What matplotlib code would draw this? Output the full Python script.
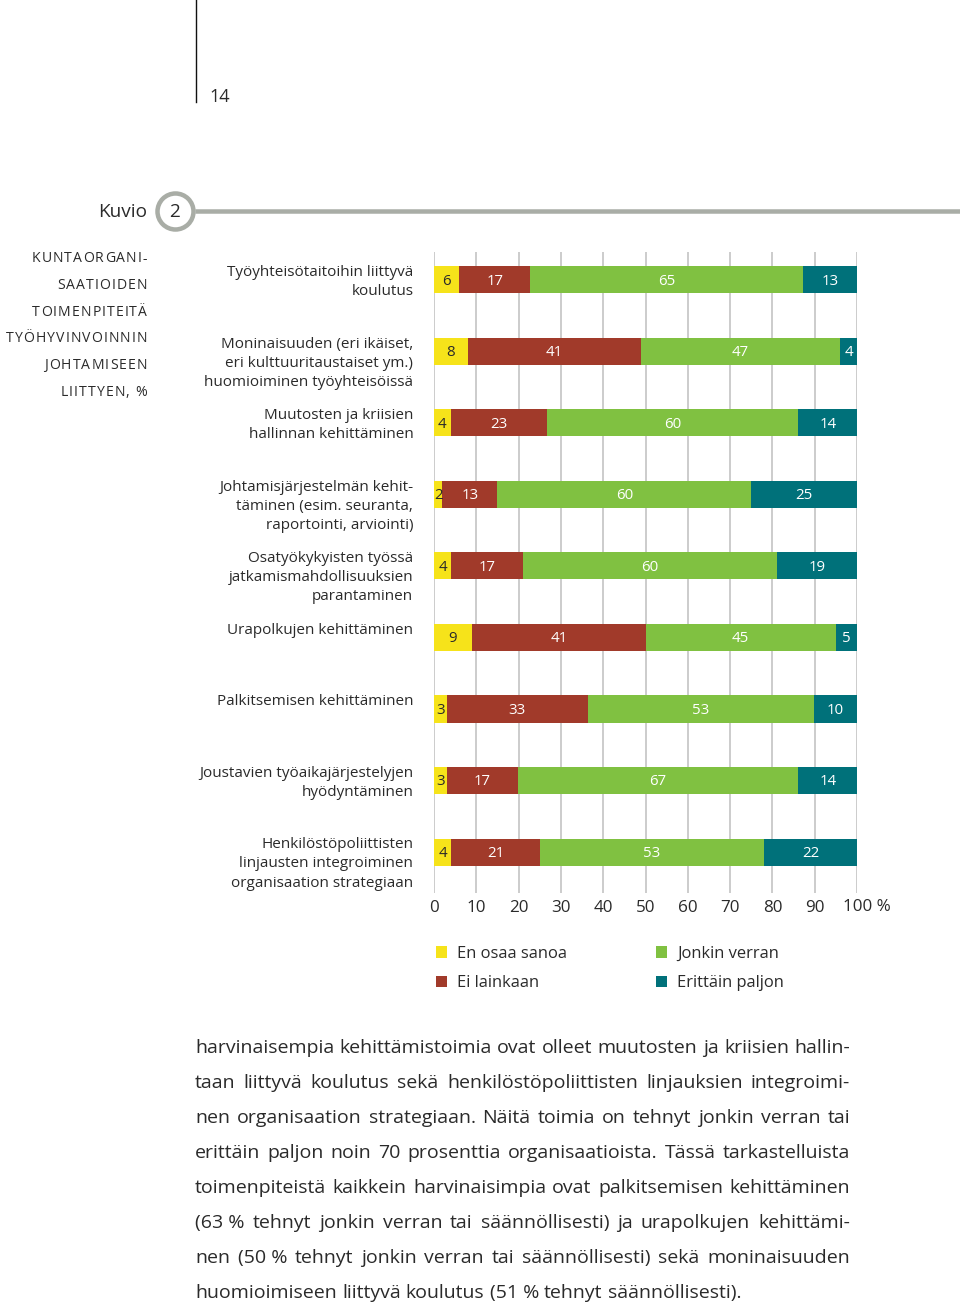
import matplotlib
matplotlib.use("Agg")
import matplotlib.pyplot as plt
import matplotlib.transforms as mtransforms
from matplotlib.lines import Line2D

W, H = 960, 1305
FONT = "Open Sans"
TEXT = "#2a2a2a"

categories = [
    "Työyhteisötaitoihin liittyvä\nkoulutus",
    "Moninaisuuden (eri ikäiset,\neri kulttuuritaustaiset ym.)\nhuomioiminen työyhteisöissä",
    "Muutosten ja kriisien\nhallinnan kehittäminen",
    "Johtamisjärjestelmän kehit-\ntäminen (esim. seuranta,\nraportointi, arviointi)",
    "Osatyökykyisten työssä\njatkamismahdollisuuksien\nparantaminen",
    "Urapolkujen kehittäminen",
    "Palkitsemisen kehittäminen",
    "Joustavien työaikajärjestelyjen\nhyödyntäminen",
    "Henkilöstöpoliittisten\nlinjausten integroiminen\norganisaation strategiaan",
]
en_osaa_sanoa = [6, 8, 4, 2, 4, 9, 3, 3, 4]
ei_lainkaan = [17, 41, 23, 13, 17, 41, 33, 17, 21]
jonkin_verran = [65, 47, 60, 60, 60, 45, 53, 67, 53]
erittain_paljon = [13, 4, 14, 25, 19, 5, 10, 14, 22]

series_names = ["En osaa sanoa", "Ei lainkaan", "Jonkin verran", "Erittäin paljon"]
series_colors = ["#F6E31A", "#A13A2A", "#80C141", "#00717A"]
label_colors = ["#2a2a2a", "white", "white", "white"]
x_ticks = [0, 10, 20, 30, 40, 50, 60, 70, 80, 90, 100]

header_lines = ["KUNTAORGANI-", "SAATIOIDEN", "TOIMENPITEITÄ",
                "TYÖHYVINVOINNIN", "JOHTAMISEEN", "LIITTYEN, %"]

paragraph = [
    "harvinaisempia kehittämistoimia ovat olleet muutosten ja kriisien hallin-",
    "taan liittyvä koulutus sekä henkilöstöpoliittisten linjauksien integroimi-",
    "nen organisaation strategiaan. Näitä toimia on tehnyt jonkin verran tai",
    "erittäin paljon noin 70 prosenttia organisaatioista. Tässä tarkastelluista",
    "toimenpiteistä kaikkein harvinaisimpia ovat palkitsemisen kehittäminen",
    "(63\u00a0% tehnyt jonkin verran tai säännöllisesti) ja urapolkujen kehittämi-",
    "nen (50\u00a0% tehnyt jonkin verran tai säännöllisesti) sekä moninaisuuden",
    "huomioimiseen liittyvä koulutus (51\u00a0% tehnyt säännöllisesti).",
]

plt.rcParams['font.family'] = [FONT, 'DejaVu Sans']


def fx(px):
    return px / W


def fy(py):
    return 1 - py / H


def pt(px):
    return px * 72 / 100


fig = plt.figure(figsize=(W / 100, H / 100), dpi=100)
renderer = fig.canvas.get_renderer()


def text_width(s, size):
    t = fig.text(0, 0, s, fontsize=size)
    w = t.get_window_extent(renderer).width
    t.remove()
    return w


# --- page number and top rule
fig.add_artist(Line2D([fx(196), fx(196)], [1, fy(102)], lw=pt(1.4), color="#111"))
fig.text(fx(209), fy(97), "14", fontsize=pt(18), color=TEXT, va="center")

# --- "Kuvio 2" header
grey = "#A9ADA6"
fig.add_artist(Line2D([fx(195), 1], [fy(211), fy(211)], lw=pt(4.5), color=grey,
                      solid_capstyle="butt"))
fig.add_artist(Line2D([fx(175)], [fy(211)], marker="o", markersize=pt(36),
                      markerfacecolor="white", markeredgecolor=grey,
                      markeredgewidth=pt(4.5)))
fig.text(fx(147), fy(212), "Kuvio", fontsize=pt(19), color=TEXT, ha="right", va="center")
fig.text(fx(175), fy(212), "2", fontsize=pt(19), color=TEXT, ha="center", va="center")

# --- spaced caps title on the left
cap_size = pt(14)
tracking = 1.1
for i, line in enumerate(header_lines):
    y = 259 + i * 26.6
    x = 147
    for ch in reversed(line):
        w = text_width(ch, cap_size) if ch != " " else cap_size * 0.35
        x -= w
        if ch != " ":
            fig.text(fx(x), fy(y), ch, fontsize=cap_size, color=TEXT, va="center")
        x -= tracking

# --- stacked bars
ax = fig.add_axes([fx(434), fy(893), (857 - 434) / W, (893 - 252) / H])
n = len(categories)
ax.set_xlim(0, 100)
ax.set_ylim(n - 1 + 0.573, -0.39)
bar_h = 0.378

data = [en_osaa_sanoa, ei_lainkaan, jonkin_verran, erittain_paljon]
totals = [sum(v) for v in zip(*data)]
lefts = [0.0] * n
for vals, name, col, lcol in zip(data, series_names, series_colors, label_colors):
    widths = [v * 100 / t for v, t in zip(vals, totals)]
    ax.barh(range(n), widths, left=lefts, height=bar_h, color=col, label=name, zorder=2)
    for i, (v, w, l) in enumerate(zip(vals, widths, lefts)):
        ax.text(l + w / 2, i + 0.02, str(v), ha="center", va="center",
                fontsize=pt(15), color=lcol, zorder=3)
    lefts = [l + w for l, w in zip(lefts, widths)]

for i, cat in enumerate(categories):
    ax.text(-4.9, i - 0.205, cat, ha="right", va="top", fontsize=pt(15.2),
            color=TEXT, linespacing=1.37, clip_on=False)

ax.set_xticks(x_ticks)
ax.set_xticklabels([str(t) for t in x_ticks[:-1]] + [""])
ax.tick_params(axis="x", length=0, pad=pt(7), labelsize=pt(17), labelcolor=TEXT)
ax.set_yticks([])
ax.grid(axis="x", color="#BDBDBD", lw=pt(1.5), zorder=0)
ax.set_axisbelow(True)
for s in ax.spines.values():
    s.set_visible(False)
off = mtransforms.ScaledTranslation(-14 / 100, 0, fig.dpi_scale_trans)
pct_tr = mtransforms.blended_transform_factory(ax.transData, fig.transFigure) + off
ax.text(100, fy(899), "100 %", transform=pct_tr, ha="left", va="top",
        fontsize=pt(17), color=TEXT)

# --- legend
handles, labels = ax.get_legend_handles_labels()
fig.legend(handles, labels, loc="upper left", bbox_to_anchor=(fx(421), fy(931)),
           ncol=2, frameon=False, fontsize=pt(16.5), handlelength=0.7,
           handleheight=0.7, handletextpad=0.6, columnspacing=5.35,
           labelspacing=0.8, labelcolor=TEXT)

# --- justified paragraph
p_size = pt(19.5)
left, right = 195, 850
space_w = text_width("a a", p_size) - text_width("aa", p_size)
for i, line in enumerate(paragraph):
    y = 1048 + i * 35
    words = line.split(" ")
    widths = [text_width(w, p_size) for w in words]
    if i < len(paragraph) - 1 and len(words) > 1:
        gap = (right - left - sum(widths)) / (len(words) - 1)
    else:
        gap = space_w
    x = left
    for w, ww in zip(words, widths):
        fig.text(fx(x), fy(y), w, fontsize=p_size, color=TEXT, va="center")
        x += ww + gap

fig.savefig("out.png", dpi=100, facecolor="white")
